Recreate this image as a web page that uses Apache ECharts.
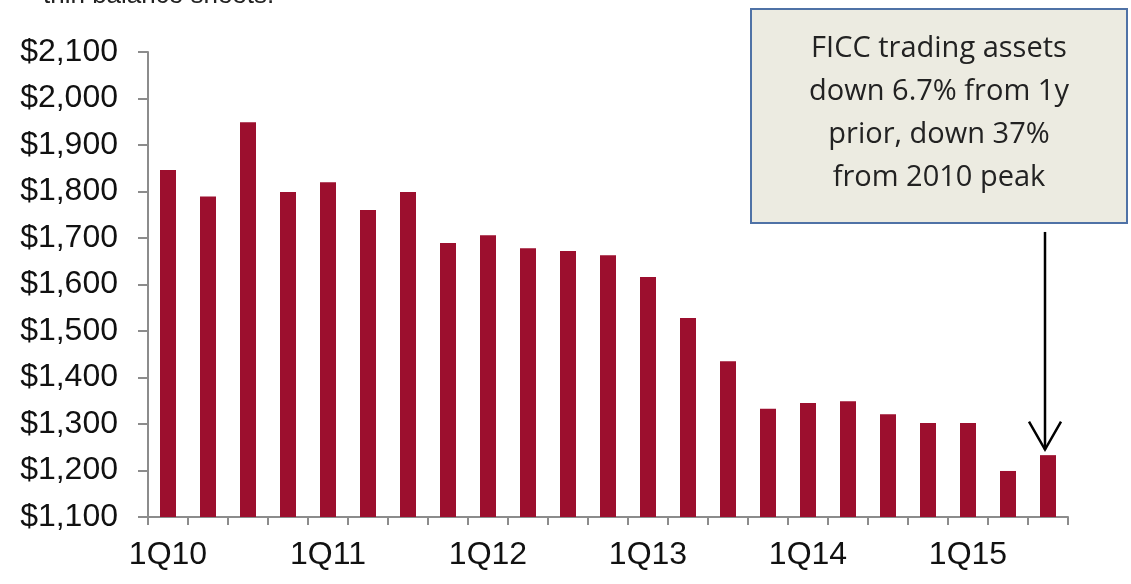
<!DOCTYPE html>
<html>
<head>
<meta charset="utf-8">
<script src="https://cdn.jsdelivr.net/npm/echarts@6/dist/echarts.min.js"></script>
<style>
  html, body { margin: 0; padding: 0; background: #fff; }
  #main { width: 1131px; height: 584px; }
</style>
</head>
<body>
<div id="main"></div>
<script>
// quarters 1Q10 .. 3Q15
const quarters = [
  "1Q10", "2Q10", "3Q10", "4Q10",
  "1Q11", "2Q11", "3Q11", "4Q11",
  "1Q12", "2Q12", "3Q12", "4Q12",
  "1Q13", "2Q13", "3Q13", "4Q13",
  "1Q14", "2Q14", "3Q14", "4Q14",
  "1Q15", "2Q15", "3Q15"
];
// FICC trading assets ($bn)
const ficcAssets = [
  1846, 1789, 1949, 1799,
  1820, 1760, 1799, 1689,
  1706, 1678, 1672, 1663,
  1616, 1528, 1435, 1333,
  1345, 1349, 1321, 1302,
  1302, 1199, 1233
];
const noteLines = [
  "FICC trading assets",
  "down 6.7% from 1y",
  "prior, down 37%",
  "from 2010 peak"
];
const arrowFrom = 1713;
const arrowTo = 1245;

const chart = echarts.init(document.getElementById("main"));
const axisFont = { fontFamily: "Liberation Sans, Arial, sans-serif", fontSize: 32, color: "#111" };

chart.setOption({
  animation: false,
  grid: { left: 148, right: 63, top: 52, bottom: 67 },
  xAxis: {
    type: "category",
    data: quarters,
    boundaryGap: true,
    axisLine: { lineStyle: { color: "#8c8c8c", width: 2 } },
    axisTick: { show: true, interval: 0, length: 8, lineStyle: { color: "#8c8c8c", width: 2 } },
    axisLabel: {
      interval: 3,
      margin: 22,
      ...axisFont
    }
  },
  yAxis: {
    type: "value",
    min: 1100,
    max: 2100,
    interval: 100,
    splitLine: { show: false },
    axisLine: { show: true, lineStyle: { color: "#8c8c8c", width: 2 } },
    axisTick: { show: true, length: 10, lineStyle: { color: "#8c8c8c", width: 2 } },
    axisLabel: {
      margin: 30,
      formatter: v => "$" + v.toLocaleString("en-US"),
      ...axisFont
    }
  },
  series: [
    {
      type: "bar",
      data: ficcAssets,
      barWidth: 16,
      itemStyle: { color: "#9c0f2e" }
    }
  ]
});

// annotation box + arrow pointing at last quarter
const lastQ = quarters[quarters.length - 1];
const arrowTop = chart.convertToPixel({ xAxisIndex: 0, yAxisIndex: 0 }, [lastQ, arrowFrom]);
const arrowTip = chart.convertToPixel({ xAxisIndex: 0, yAxisIndex: 0 }, [lastQ, arrowTo]);
const ax = arrowTip[0] - 3;

chart.setOption({
  graphic: [
    {
      type: "text",
      x: 43,
      y: 9,
      style: {
        text: "thin balance sheets.",
        font: "26px Liberation Sans, Arial",
        fill: "#222",
        verticalAlign: "bottom"
      }
    },
    {
      type: "rect",
      shape: { x: 751, y: 9, width: 376, height: 214 },
      style: { fill: "#ecebe1", stroke: "#4f72a6", lineWidth: 2 }
    },
    {
      type: "text",
      x: 939,
      y: 27,
      style: {
        text: noteLines.join("\n"),
        font: "29px Open Sans, sans-serif",
        fill: "#222",
        align: "center",
        lineHeight: 43
      }
    },
    {
      type: "line",
      shape: { x1: ax, y1: arrowTop[1], x2: ax, y2: arrowTip[1] },
      style: { stroke: "#000", lineWidth: 2.5 }
    },
    {
      type: "polyline",
      shape: { points: [[ax - 16, arrowTip[1] - 28], [ax, arrowTip[1]], [ax + 16, arrowTip[1] - 28]] },
      style: { stroke: "#000", lineWidth: 2.5, fill: null }
    }
  ]
});
</script>
</body>
</html>
